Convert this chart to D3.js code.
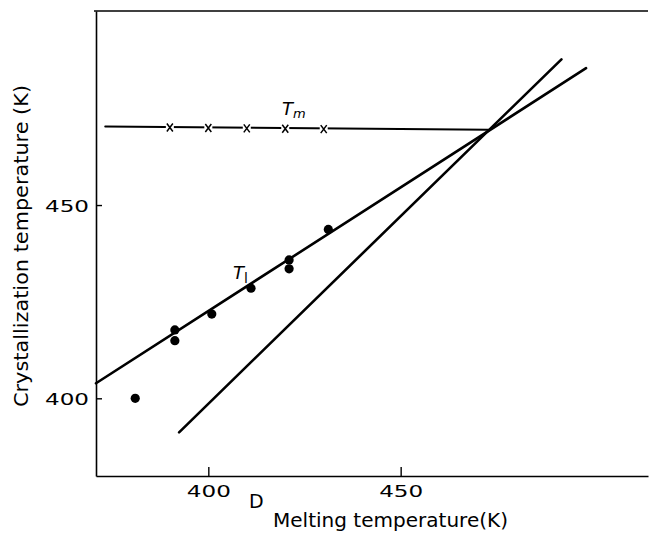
<!DOCTYPE html>
<html><head><meta charset="utf-8">
<script src="https://cdn.jsdelivr.net/npm/d3@7"></script>
<style>body{margin:0;background:#fff}svg{display:block}text{font-family:"DejaVu Sans",sans-serif;fill:#000}</style>
</head><body><svg id="c" width="650" height="536"></svg>
<script>
// data
const xTicks = [400, 450];
const yTicks = [400, 450];
const pointsX = [381, 391.3, 391.3, 400.9, 411.1, 421, 421, 431.2];
const pointsY = [400, 417.7, 414.9, 421.8, 428.5, 435.8, 433.5, 443.7];
const tmX = [390, 400, 410, 420, 430];
const tmY = [470.3, 470.2, 470.1, 470.0, 469.9];
const tmLineX = [373.2, 472.8];
const tmLineY = [470.3, 469.5];
const t1LineX = [370.8, 498.2];
const t1LineY = [403.9, 485.4];
const steepLineX = [392.4, 491.8];
const steepLineY = [391.2, 487.7];

const svg = d3.select('#c');
const x = d3.scaleLinear().domain([370.8, 514.3]).range([96, 648]);
const y = d3.scaleLinear().domain([379.9, 500.2]).range([476, 11]);

// axes
const gx = svg.append('g').attr('transform', 'translate(0,476)')
  .call(d3.axisBottom(x).tickValues(xTicks).tickSizeInner(-9).tickSizeOuter(0).tickPadding(10).tickFormat(d3.format('d')));
const gy = svg.append('g').attr('transform', 'translate(96,0)')
  .call(d3.axisLeft(y).tickValues(yTicks).tickSizeInner(-6).tickSizeOuter(0).tickPadding(7).tickFormat(d3.format('d')));
[gx, gy].forEach(g => {
  g.select('.domain').attr('stroke', '#000').attr('stroke-width', 1.6);
  g.selectAll('.tick line').attr('stroke', '#000').attr('stroke-width', 1.4);
  g.selectAll('.tick text').attr('font-size', 16).attr('textLength', 44).attr('lengthAdjust', 'spacingAndGlyphs').attr('fill', '#000');
});
gy.selectAll('.tick text').attr('dy', '0.4em');
// top frame line
svg.append('line').attr('x1', x(x.domain()[0]) - 2).attr('x2', x(x.domain()[1])).attr('y1', y(y.domain()[1])).attr('y2', y(y.domain()[1]))
  .attr('stroke', '#000').attr('stroke-width', 1.4);

// lines
function seg(xs, ys, w) {
  svg.append('line').attr('x1', x(xs[0])).attr('y1', y(ys[0])).attr('x2', x(xs[1])).attr('y2', y(ys[1]))
    .attr('stroke', '#000').attr('stroke-width', w).attr('stroke-linecap', 'round');
}
seg(tmLineX, tmLineY, 2);
seg(t1LineX, t1LineY, 2.6);
seg(steepLineX, steepLineY, 2.6);

// Tm markers (x)
svg.selectAll('rect.gap').data(tmX).join('rect').attr('class','gap')
  .attr('x', d => x(d) - 4).attr('y', (d,i) => y(tmY[i]) - 2).attr('width', 8).attr('height', 4).attr('fill', '#fff');
svg.selectAll('path.tm').data(tmX).join('path').attr('class', 'tm')
  .attr('d', (d, i) => {
    const cx = x(d), cy = y(tmY[i]) + 1;
    return `M${cx-3},${cy-4}L${cx+3},${cy+4}M${cx+3},${cy-4}L${cx-3},${cy+4}`;
  })
  .attr('stroke', '#000').attr('stroke-width', 1.5).attr('fill', 'none');

// points
svg.selectAll('circle').data(pointsX).join('circle')
  .attr('cx', d => x(d)).attr('cy', (d, i) => y(pointsY[i])).attr('r', 4.6).attr('fill', '#000');

// series labels
const tm = svg.append('text').attr('x', 282).attr('y', 115).attr('font-size', 18).attr('font-style', 'italic');
tm.append('tspan').text('T');
tm.append('tspan').attr('font-size', 13).attr('dy', 3).text('m');
const tl = svg.append('text').attr('x', 233).attr('y', 279).attr('font-size', 18).attr('font-style', 'italic');
tl.append('tspan').text('T');
tl.append('tspan').attr('font-size', 14).attr('dy', 4).attr('font-style', 'normal').text('l');

svg.append('text').attr('x', 249).attr('y', 508).attr('font-size', 19).text('D');

// axis titles
svg.append('text').attr('x', 273).attr('y', 527).attr('font-size', 19)
  .attr('textLength', 235).attr('lengthAdjust', 'spacingAndGlyphs').text('Melting temperature(K)');
svg.append('text').attr('transform', 'translate(28,407) rotate(-90)').attr('font-size', 19)
  .attr('textLength', 322).attr('lengthAdjust', 'spacingAndGlyphs').text('Crystallization temperature (K)');
</script></body></html>
